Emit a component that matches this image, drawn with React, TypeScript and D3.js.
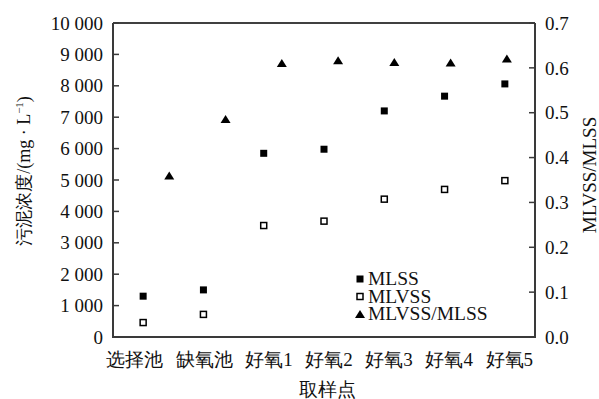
import React, { useEffect, useRef } from "react";
import * as d3 from "d3";

const categories = ["选择池", "缺氧池", "好氧1", "好氧2", "好氧3", "好氧4", "好氧5"];
const mlss = [1300, 1500, 5850, 5980, 7200, 7670, 8060];
const mlvss = [460, 720, 3550, 3690, 4390, 4700, 4980];
const ratio = [0.36, 0.486, 0.611, 0.617, 0.613, 0.612, 0.621];
const leftTicks = [0, 1000, 2000, 3000, 4000, 5000, 6000, 7000, 8000, 9000, 10000];
const rightTicks = [0, 0.1, 0.2, 0.3, 0.4, 0.5, 0.6, 0.7];
const legendItems = ["MLSS", "MLVSS", "MLVSS/MLSS"];

const W = 599;
const H = 399;
const M = { left: 113, right: 535, top: 23, bottom: 337 };
const FONT = "Liberation Serif, Times New Roman, Tinos, DejaVu Serif, serif";

export default function App() {
  const ref = useRef<SVGSVGElement | null>(null);

  useEffect(() => {
    const svg = d3.select(ref.current);
    svg.selectAll("*").remove();

    const x = d3.scaleBand<string>().domain(categories).range([M.left, M.right]).padding(0);
    const x2 = d3.scaleLinear().domain([0, 7.5]).range([M.left, M.right]);
    const yL = d3.scaleLinear().domain([0, 10000]).range([M.bottom, M.top]);
    const yR = d3.scaleLinear().domain([0, 0.7]).range([M.bottom, M.top]);

    const loc = d3.formatLocale({ decimal: ".", thousands: " ", grouping: [3], currency: ["", ""] });
    const fmtL = loc.format(",");
    const fmtR = d3.format(".1f");

    const g = svg.append("g").style("font-family", FONT).attr("fill", "#111");

    // top border
    g.append("line")
      .attr("x1", M.left).attr("x2", M.right)
      .attr("y1", M.top).attr("y2", M.top)
      .attr("stroke", "#000").attr("stroke-width", 1.3);

    // axes lines
    const axisColor = "#3a3a3a";
    g.append("line").attr("x1", M.left).attr("x2", M.left).attr("y1", M.top).attr("y2", M.bottom + 1)
      .attr("stroke", axisColor).attr("stroke-width", 2);
    g.append("line").attr("x1", M.right).attr("x2", M.right).attr("y1", M.top).attr("y2", M.bottom + 1)
      .attr("stroke", axisColor).attr("stroke-width", 2);
    g.append("line").attr("x1", M.left - 1).attr("x2", M.right + 1).attr("y1", M.bottom).attr("y2", M.bottom)
      .attr("stroke", axisColor).attr("stroke-width", 2.2);

    // left ticks
    leftTicks.forEach((t) => {
      g.append("line").attr("x1", M.left).attr("x2", M.left + 6)
        .attr("y1", yL(t)).attr("y2", yL(t)).attr("stroke", axisColor).attr("stroke-width", 1.5);
      g.append("text").attr("x", M.left - 10).attr("y", yL(t)).attr("dy", "0.35em")
        .attr("text-anchor", "end").attr("font-size", 19).text(fmtL(t));
    });

    // right ticks
    rightTicks.forEach((t) => {
      g.append("line").attr("x1", M.right - 6).attr("x2", M.right)
        .attr("y1", yR(t)).attr("y2", yR(t)).attr("stroke", axisColor).attr("stroke-width", 1.5);
      g.append("text").attr("x", M.right + 10).attr("y", yR(t)).attr("dy", "0.35em")
        .attr("text-anchor", "start").attr("font-size", 19).text(fmtR(t));
    });

    // category labels: a justified row from just left of the axis to the right axis
    const labels = categories.map((c) =>
      g.append("text").attr("y", 366).attr("text-anchor", "start").attr("font-size", 19).text(c)
    );
    const widths = labels.map((l) => (l.node() as SVGTextElement).getComputedTextLength());
    const rowStart = M.left - 7;
    const rowEnd = M.right - 2;
    const gap = (rowEnd - rowStart - d3.sum(widths)) / (categories.length - 1);
    let cur = rowStart;
    labels.forEach((l, i) => {
      l.attr("x", cur);
      cur += widths[i] + gap;
    });

    // axis titles
    g.append("text").attr("x", (M.left + M.right) / 2 + 3).attr("y", 396)
      .attr("text-anchor", "middle").attr("font-size", 19).text("取样点");

    const lt = g.append("text").attr("transform", "translate(30,171) rotate(-90)")
      .attr("text-anchor", "middle").attr("font-size", 18);
    lt.append("tspan").text("污泥浓度/(mg · L");
    lt.append("tspan").attr("font-size", 11).attr("dy", -7).text("−1");
    lt.append("tspan").attr("dy", 7).text(")");

    g.append("text").attr("transform", "translate(596,175) rotate(-90)")
      .attr("text-anchor", "middle").attr("font-size", 19).text("MLVSS/MLSS");

    // markers
    const tri = (cx: number, cy: number, w: number, h: number) =>
      `M${cx},${cy - h / 2}L${cx + w / 2},${cy + h / 2}L${cx - w / 2},${cy + h / 2}Z`;

    categories.forEach((c, i) => {
      const cx = (x(c) as number) + x.bandwidth() / 2;
      g.append("rect").attr("x", cx - 3.5).attr("y", yL(mlss[i]) - 3.5)
        .attr("width", 7).attr("height", 7).attr("fill", "#000");
      g.append("rect").attr("x", cx - 3).attr("y", yL(mlvss[i]) - 3)
        .attr("width", 6).attr("height", 6).attr("fill", "#fff")
        .attr("stroke", "#000").attr("stroke-width", 1.5);
      g.append("path").attr("d", tri(x2(i + 1), yR(ratio[i]), 10, 8)).attr("fill", "#000");
    });

    // legend
    const lx = 360;
    const ly0 = 279;
    const ldy = 17.5;
    legendItems.forEach((name, i) => {
      const cy = ly0 + i * ldy;
      if (i === 0) {
        g.append("rect").attr("x", lx - 3.5).attr("y", cy - 3.5).attr("width", 7).attr("height", 7).attr("fill", "#000");
      } else if (i === 1) {
        g.append("rect").attr("x", lx - 3).attr("y", cy - 3).attr("width", 6).attr("height", 6)
          .attr("fill", "#fff").attr("stroke", "#000").attr("stroke-width", 1.5);
      } else {
        g.append("path").attr("d", tri(lx, cy, 10, 8)).attr("fill", "#000");
      }
      g.append("text").attr("x", lx + 8).attr("y", cy + 6).attr("font-size", 19.5).text(name);
    });
  }, []);

  return (
    <svg
      ref={ref}
      width={W}
      height={H}
      viewBox={`0 0 ${W} ${H}`}
      style={{ position: "absolute", left: 0, top: 0, background: "#fff" }}
    />
  );
}
